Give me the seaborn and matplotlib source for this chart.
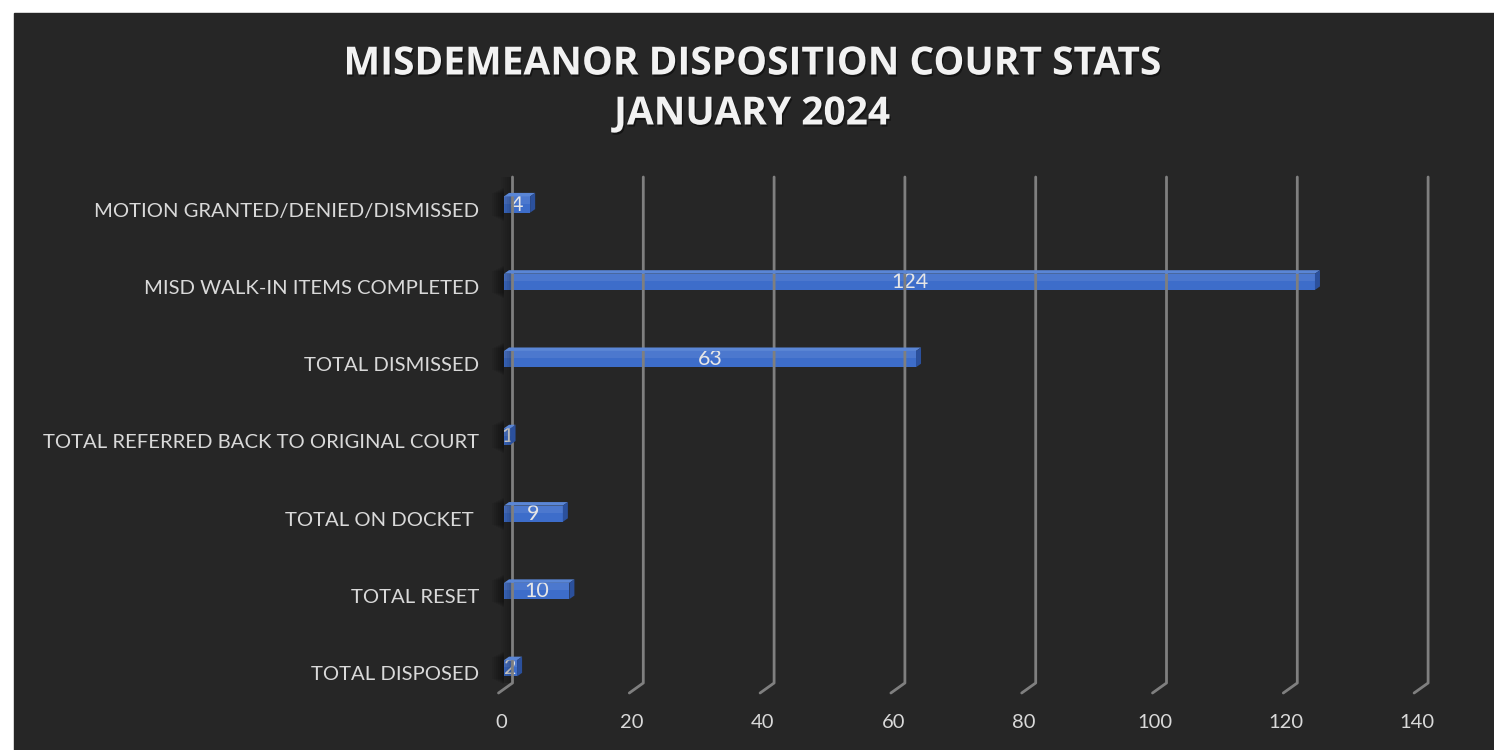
import numpy as np
import pandas as pd
import matplotlib
matplotlib.use('Agg')
import matplotlib.pyplot as plt
import matplotlib.patheffects as pe
import matplotlib.transforms as mtransforms
from matplotlib.patches import Polygon, Rectangle
from matplotlib.lines import Line2D
import seaborn as sns

# data
categories = ['MOTION GRANTED/DENIED/DISMISSED',
              'MISD WALK-IN ITEMS COMPLETED',
              'TOTAL DISMISSED',
              'TOTAL REFERRED BACK TO ORIGINAL COURT',
              'TOTAL ON DOCKET ',
              'TOTAL RESET',
              'TOTAL DISPOSED']
values = [4, 124, 63, 1, 9, 10, 2]
x_ticks = [0, 20, 40, 60, 80, 100, 120, 140]
title_lines = ['MISDEMEANOR DISPOSITION COURT STATS', 'JANUARY 2024']

BG = '#262626'
FRONT = '#3d6dca'
TOP = '#5a86d6'
SIDE = '#2b509c'
GRID = '#7f7f7f'
TXT = '#d9d9d9'

W, H = 1494, 750
sns.set_style('dark')
plt.rcParams['font.family'] = ['Lato', 'DejaVu Sans']

fig = plt.figure(figsize=(W / 100, H / 100), dpi=100, facecolor='white')
fig.patches.append(Rectangle((14 / W, 0), 1 - 14 / W, 1 - 13 / H,
                             transform=fig.transFigure, color=BG, zorder=-10))

# plot area in pixels (front plane of the fake 3d chart)
left, right, top, bottom = 504, 1419.6, 177, 693
ax = fig.add_axes([left / W, 1 - bottom / H, (right - left) / W, (bottom - top) / H])
ax.set_facecolor('none')

df = pd.DataFrame({'item': categories, 'count': values})
sns.barplot(data=df, x='count', y='item', orient='h', color=FRONT,
            width=0.21, saturation=1, ax=ax, zorder=5, edgecolor='none')

ax.set_xlim(0, 140)
ax.set_ylim(6.32, -0.356)
for s in ax.spines.values():
    s.set_visible(False)
ax.grid(False)
ax.set_xlabel('')
ax.set_ylabel('')
ax.set_xticks(x_ticks)
ax.set_xticklabels([str(t) for t in x_ticks])
ax.tick_params(axis='x', length=0, pad=15, labelsize=14.5, labelcolor=TXT)
ax.tick_params(axis='y', length=0, pad=18, labelsize=14.6, labelcolor=TXT)
shift = mtransforms.ScaledTranslation(0, -5 / 100, fig.dpi_scale_trans)
for lab in ax.get_yticklabels():
    lab.set_transform(lab.get_transform() + shift)
shift_x = mtransforms.ScaledTranslation(-3 / 100, 0, fig.dpi_scale_trans)
for lab in ax.get_xticklabels():
    lab.set_transform(lab.get_transform() + shift_x)

ident = mtransforms.IdentityTransform()

# back-plane gridlines with the slanted floor foot
for t in x_ticks:
    px = ax.transData.transform((t, 0))[0] + 8.5
    fig.lines.append(Line2D([px - 14, px, px], [H - 693, H - 683, H - 177],
                            transform=ident, color=GRID, lw=2, zorder=1))

# soft wall shadow left of the zero line
x0 = ax.transData.transform((0, 0))[0] + 8.5
for k in range(6):
    fig.patches.append(Rectangle((x0 - 2 - 2 * k, H - 683), 2 + 2 * k, 506,
                                 transform=ident, color='black',
                                 alpha=0.05, lw=0, zorder=0.5))

# 3d faces of the bars
dx, dy = 5, 3.5
for p in ax.patches:
    bx, by, bw, bh = p.get_x(), p.get_y(), p.get_width(), p.get_height()
    (xl, yt) = ax.transData.transform((bx, by))
    (xr, yb) = ax.transData.transform((bx + bw, by + bh))
    # blurred shadow cast on the wall
    for k in range(6):
        fig.patches.append(Rectangle((xl - 2 - 2 * k, yb - 8 + k), 2 + 2 * k, (yt - yb) + 16 - 2 * k,
                                     transform=ident, color='black', alpha=0.07,
                                     lw=0, zorder=0.6))
    fig.patches.append(Polygon([(xl, yt), (xr, yt), (xr + dx, yt + dy), (xl + dx, yt + dy)],
                               closed=True, transform=ident, facecolor=TOP,
                               edgecolor='none', zorder=2))
    fig.patches.append(Polygon([(xr, yt), (xr + dx, yt + dy), (xr + dx, yb + dy), (xr, yb)],
                               closed=True, transform=ident, facecolor=SIDE,
                               edgecolor='none', zorder=2))
    # light upper half of the front face
    ax.add_patch(Rectangle((bx, by), bw, bh * 0.45, facecolor='white', alpha=0.08,
                           lw=0, zorder=6))

ax.bar_label(ax.containers[0], label_type='center', color='#e6e6e6',
             fontsize=15.5, padding=0, zorder=7)

shadow = [pe.SimplePatchShadow(offset=(1, -1.5), shadow_rgbFace='black', alpha=0.45), pe.Normal()]
fig.text(752 / W, 1 - 64 / H, title_lines[0], ha='center', va='center',
         fontsize=28, fontweight='bold', color='#f2f2f2',
         family=['Open Sans', 'DejaVu Sans'], path_effects=shadow)
fig.text(752 / W, 1 - 114 / H, title_lines[1], ha='center', va='center',
         fontsize=28, fontweight='bold', color='#f2f2f2',
         family=['Open Sans', 'DejaVu Sans'], path_effects=shadow)

fig.savefig('out.png', dpi=100, facecolor=fig.get_facecolor())
